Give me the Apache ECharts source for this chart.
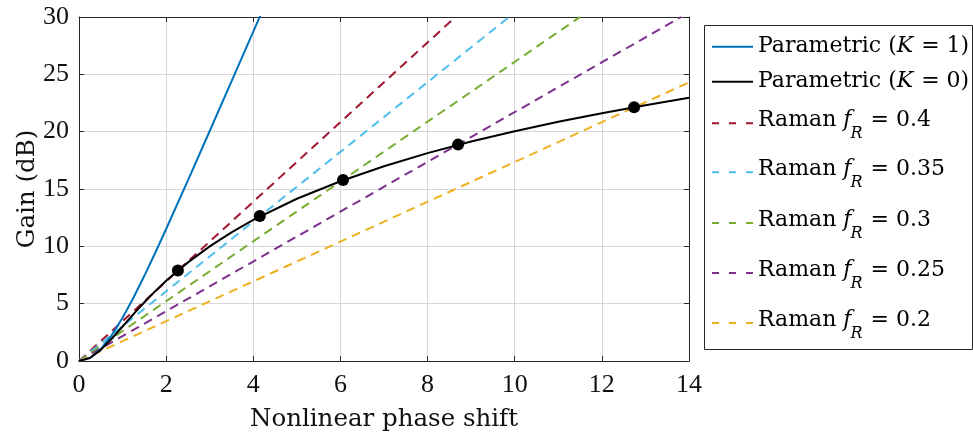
<!DOCTYPE html>
<html>
<head>
<meta charset="utf-8">
<script src="https://cdn.jsdelivr.net/npm/echarts@6/dist/echarts.min.js"></script>
<style>
  html, body { margin: 0; padding: 0; background: #fff; }
  #chart { width: 973px; height: 436px; }
</style>
</head>
<body>
<div id="chart"></div>
<script>
// ---- Data ----
const xTicks = [0, 2, 4, 6, 8, 10, 12, 14];
const yTicks = [0, 5, 10, 15, 20, 25, 30];
const xTitle = 'Nonlinear phase shift';
const yTitle = 'Gain (dB)';

// Parametric (K = 1)
const paramK1X = [0, 0.25, 0.5, 0.75, 1, 1.25, 1.5, 1.75, 2, 2.5, 3, 3.5, 4, 4.2];
const paramK1Y = [0, 0.27, 1.04, 2.24, 3.77, 5.52, 7.43, 9.44, 11.51, 15.75, 20.06, 24.39, 28.73, 30.46];

// Parametric (K = 0)
const paramK0X = [0, 0.25, 0.5, 0.75, 1, 1.25, 1.5, 1.75, 2, 2.5, 3, 3.5, 4, 5, 6, 7, 8, 9, 10, 11, 12, 13, 14];
const paramK0Y = [0, 0.26, 0.97, 1.94, 3.01, 4.09, 5.12, 6.09, 6.99, 8.60, 10.00, 11.22, 12.30, 14.15, 15.68, 16.99, 18.13, 19.14, 20.04, 20.86, 21.61, 22.30, 22.95];

// Crossing points (black dots)
const markerX = [2.27, 4.15, 6.06, 8.70, 12.74];
const markerY = [7.90, 12.65, 15.78, 18.87, 22.12];

// Raman lines (straight from origin)
const ramanFR = ['0.4', '0.35', '0.3', '0.25', '0.2'];
const ramanStartX = [0, 0, 0, 0, 0];
const ramanStartY = [0, 0, 0, 0, 0];
const ramanEndX = [8.64, 9.87, 11.50, 13.82, 14];
const ramanEndY = [30, 30, 30, 30, 24.3];

const paramK = ['1', '0'];
const seriesNames = paramK.map(k => 'Parametric (K = ' + k + ')').concat(ramanFR.map(v => 'Raman fR = ' + v));

// ---- Styles / layout ----
const paramColors = ['#0072BD', '#000000'];
const ramanColors = ['#A2142F', '#4DBEEE', '#77AC30', '#7E2F8E', '#EDB120'];
const serif = 'DejaVu Serif';
const tickFont = 'Liberation Serif';
const axisColor = '#262626';
const gridColor = '#d6d6d6';
const textColor = '#111111';
const plotDash = [9, 6];
const legendDash = [7, 10];
const legendRowY = [46.7, 81.7, 123.3, 172.3, 223, 273, 323];

function pairs(xs, ys) { return xs.map((x, i) => [x, ys[i]]); }

const series = [];
series.push({
  name: seriesNames[0], type: 'line', data: pairs(paramK1X, paramK1Y),
  symbol: 'none', clip: true, lineStyle: { color: paramColors[0], width: 2 }, itemStyle: { color: paramColors[0] }, z: 3
});
series.push({
  name: seriesNames[1], type: 'line', data: pairs(paramK0X, paramK0Y),
  symbol: 'none', clip: true, lineStyle: { color: paramColors[1], width: 2 }, itemStyle: { color: paramColors[1] }, z: 4
});
ramanFR.forEach((v, i) => {
  series.push({
    name: seriesNames[2 + i], type: 'line',
    data: [[ramanStartX[i], ramanStartY[i]], [ramanEndX[i], ramanEndY[i]]],
    symbol: 'none', clip: true,
    lineStyle: { color: ramanColors[i], width: 2, type: plotDash },
    itemStyle: { color: ramanColors[i] }, z: 2
  });
});
series.push({
  name: 'markers', type: 'scatter', data: pairs(markerX, markerY),
  symbol: 'circle', symbolSize: 12, itemStyle: { color: '#000', opacity: 1 }, z: 6
});

// ---- Legend drawn as graphic elements (box, line samples, real text) ----
const measureCtx = document.createElement('canvas').getContext('2d');
function fontStr(size, italic) { return (italic ? 'italic ' : '') + size + 'px "' + serif + '"'; }
function textW(t, size, italic) { measureCtx.font = fontStr(size, italic); return measureCtx.measureText(t).width; }
function txt(t, x, y, size, italic) {
  return {
    type: 'text', x: x, y: y, silent: true,
    style: { text: t, font: fontStr(size, italic), fill: '#000', align: 'left', verticalAlign: 'middle' }
  };
}

const legendEls = [];
legendEls.push({
  type: 'rect', silent: true,
  shape: { x: 704.5, y: 25.5, width: 268, height: 324 },
  style: { fill: '#fff', stroke: axisColor, lineWidth: 1 }
});
const allColors = paramColors.concat(ramanColors);
seriesNames.forEach((name, i) => {
  const cy = legendRowY[i];
  const isRaman = i >= 2;
  legendEls.push({
    type: 'line', silent: true,
    shape: { x1: 712, y1: cy, x2: 753, y2: cy },
    style: { stroke: allColors[i], lineWidth: 2, lineDash: isRaman ? legendDash : null }
  });
  const x0 = 758;
  if (!isRaman) {
    const a = 'Parametric (', b = 'K', c = ' = ' + paramK[i] + ')';
    const wa = textW(a, 22, false), wb = textW(b, 22, true);
    legendEls.push(txt(a, x0, cy, 22, false));
    legendEls.push(txt(b, x0 + wa, cy, 22, true));
    legendEls.push(txt(c, x0 + wa + wb + 1, cy, 22, false));
  } else {
    const my = cy - 3;
    const a = 'Raman ', b = 'f', s = 'R', c = ' = ' + ramanFR[i - 2];
    const wa = textW(a, 22, false), wb = textW(b, 22, true), ws = textW(s, 16, true);
    legendEls.push(txt(a, x0, my, 22, false));
    legendEls.push(txt(b, x0 + wa, my, 22, true));
    legendEls.push(txt(s, x0 + wa + wb - 1, my + 14, 16, true));
    legendEls.push(txt(c, x0 + wa + wb + ws, my, 22, false));
  }
});

// axis titles
legendEls.push({
  type: 'text', silent: true, x: 384, y: 420,
  style: { text: xTitle, font: '24.5px "' + serif + '"', fill: textColor, align: 'center', verticalAlign: 'middle' }
});
legendEls.push({
  type: 'text', silent: true, x: 28, y: 189, rotation: Math.PI / 2,
  style: { text: yTitle, font: '24.5px "' + serif + '"', fill: textColor, align: 'center', verticalAlign: 'middle' }
});

const gridLine = { show: true, lineStyle: { color: gridColor, width: 1 } };
const axLine = { show: true, onZero: false, lineStyle: { color: axisColor, width: 1 } };
const tickIn = { show: true, inside: true, length: 5, lineStyle: { color: axisColor, width: 1 } };

const option = {
  animation: false,
  backgroundColor: '#ffffff',
  grid: { left: 79, right: 284, top: 17, bottom: 75, containLabel: false },
  xAxis: [
    {
      type: 'value', min: xTicks[0], max: xTicks[xTicks.length - 1], interval: 2,
      axisLine: axLine, axisTick: tickIn, splitLine: gridLine,
      axisLabel: { fontFamily: tickFont, fontSize: 26, color: textColor, margin: 11 }
    },
    {
      type: 'value', position: 'top', min: xTicks[0], max: xTicks[xTicks.length - 1], interval: 2,
      axisLine: axLine, axisTick: tickIn, splitLine: { show: false }, axisLabel: { show: false }
    }
  ],
  yAxis: [
    {
      type: 'value', min: yTicks[0], max: yTicks[yTicks.length - 1], interval: 5,
      axisLine: axLine, axisTick: tickIn, splitLine: gridLine,
      axisLabel: { fontFamily: tickFont, fontSize: 26, color: textColor, margin: 10 }
    },
    {
      type: 'value', position: 'right', min: yTicks[0], max: yTicks[yTicks.length - 1], interval: 5,
      axisLine: axLine, axisTick: tickIn, splitLine: { show: false }, axisLabel: { show: false }
    }
  ],
  graphic: { elements: legendEls },
  series: series
};

const chart = echarts.init(document.getElementById('chart'), null, { renderer: 'canvas' });
chart.setOption(option);
</script>
</body>
</html>
